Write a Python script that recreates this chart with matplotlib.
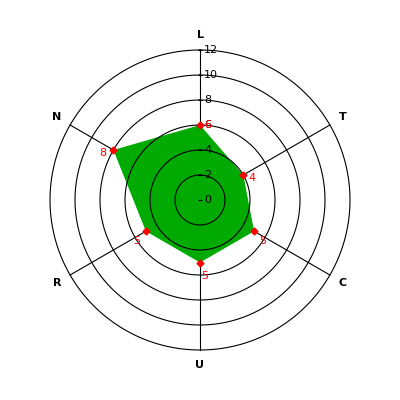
import numpy as np
import matplotlib
matplotlib.use("Agg")
import matplotlib.pyplot as plt

# data
categories = ["L", "T", "C", "U", "R", "N"]
values = [6, 4, 5, 5, 5, 8]
rticks = [0, 2, 4, 6, 8, 10, 12]

# per-point label offsets (points), style only
label_offsets = [(3, 0), (4, -2), (4, -7), (1, -10), (-4, -7), (-5, -2)]
label_align = [("left", "center"), ("left", "center"), ("left", "center"),
               ("left", "center"), ("right", "center"), ("right", "center")]

n = len(categories)
angles = np.arange(n) * 2 * np.pi / n

fig = plt.figure(figsize=(4, 4), dpi=100)
ax = fig.add_axes([0.125, 0.125, 0.75, 0.75], projection="polar")
ax.set_theta_zero_location("N")
ax.set_theta_direction(-1)
ax.set_ylim(0, max(rticks))
ax.grid(False)
ax.spines["polar"].set_visible(False)
ax.set_yticks([])
ax.set_xticks([])

lw = 0.8

# spokes under the fill
for a in angles:
    ax.plot([a, a], [0, max(rticks)], color="black", lw=lw, zorder=1,
            clip_on=False)

# filled polygon
th = np.append(angles, angles[0])
vv = np.append(values, values[0])
ax.fill(th, vv, color="#00aa00", lw=0, zorder=2)

# rings above the fill
ring = np.linspace(0, 2 * np.pi, 400)
for r in rticks[1:]:
    ax.plot(ring, np.full_like(ring, r), color="black", lw=lw, zorder=3,
            clip_on=False)

# radial ticks + labels along the L axis
for r in rticks:
    ax.plot([0], [r], marker="_", color="black", ms=3, mew=lw, zorder=4,
            clip_on=False)
    ax.annotate(str(r), (0, r), xytext=(3, 0), textcoords="offset points",
                ha="left", va="center", fontsize=8, color="black", zorder=5)

# points and value labels
ax.plot(angles, values, "D", color="red", ms=3.5, zorder=4)
for a, v, off, (ha, va) in zip(angles, values, label_offsets, label_align):
    ax.annotate(str(v), (a, v), xytext=off, textcoords="offset points",
                ha=ha, va=va, fontsize=8, color="red", zorder=5)

# category labels
for a, c in zip(angles, categories):
    ax.text(a, max(rticks) * 1.1, c, ha="center", va="center",
            fontsize=8, fontweight="bold", color="black")

fig.savefig("out.png", dpi=100)
